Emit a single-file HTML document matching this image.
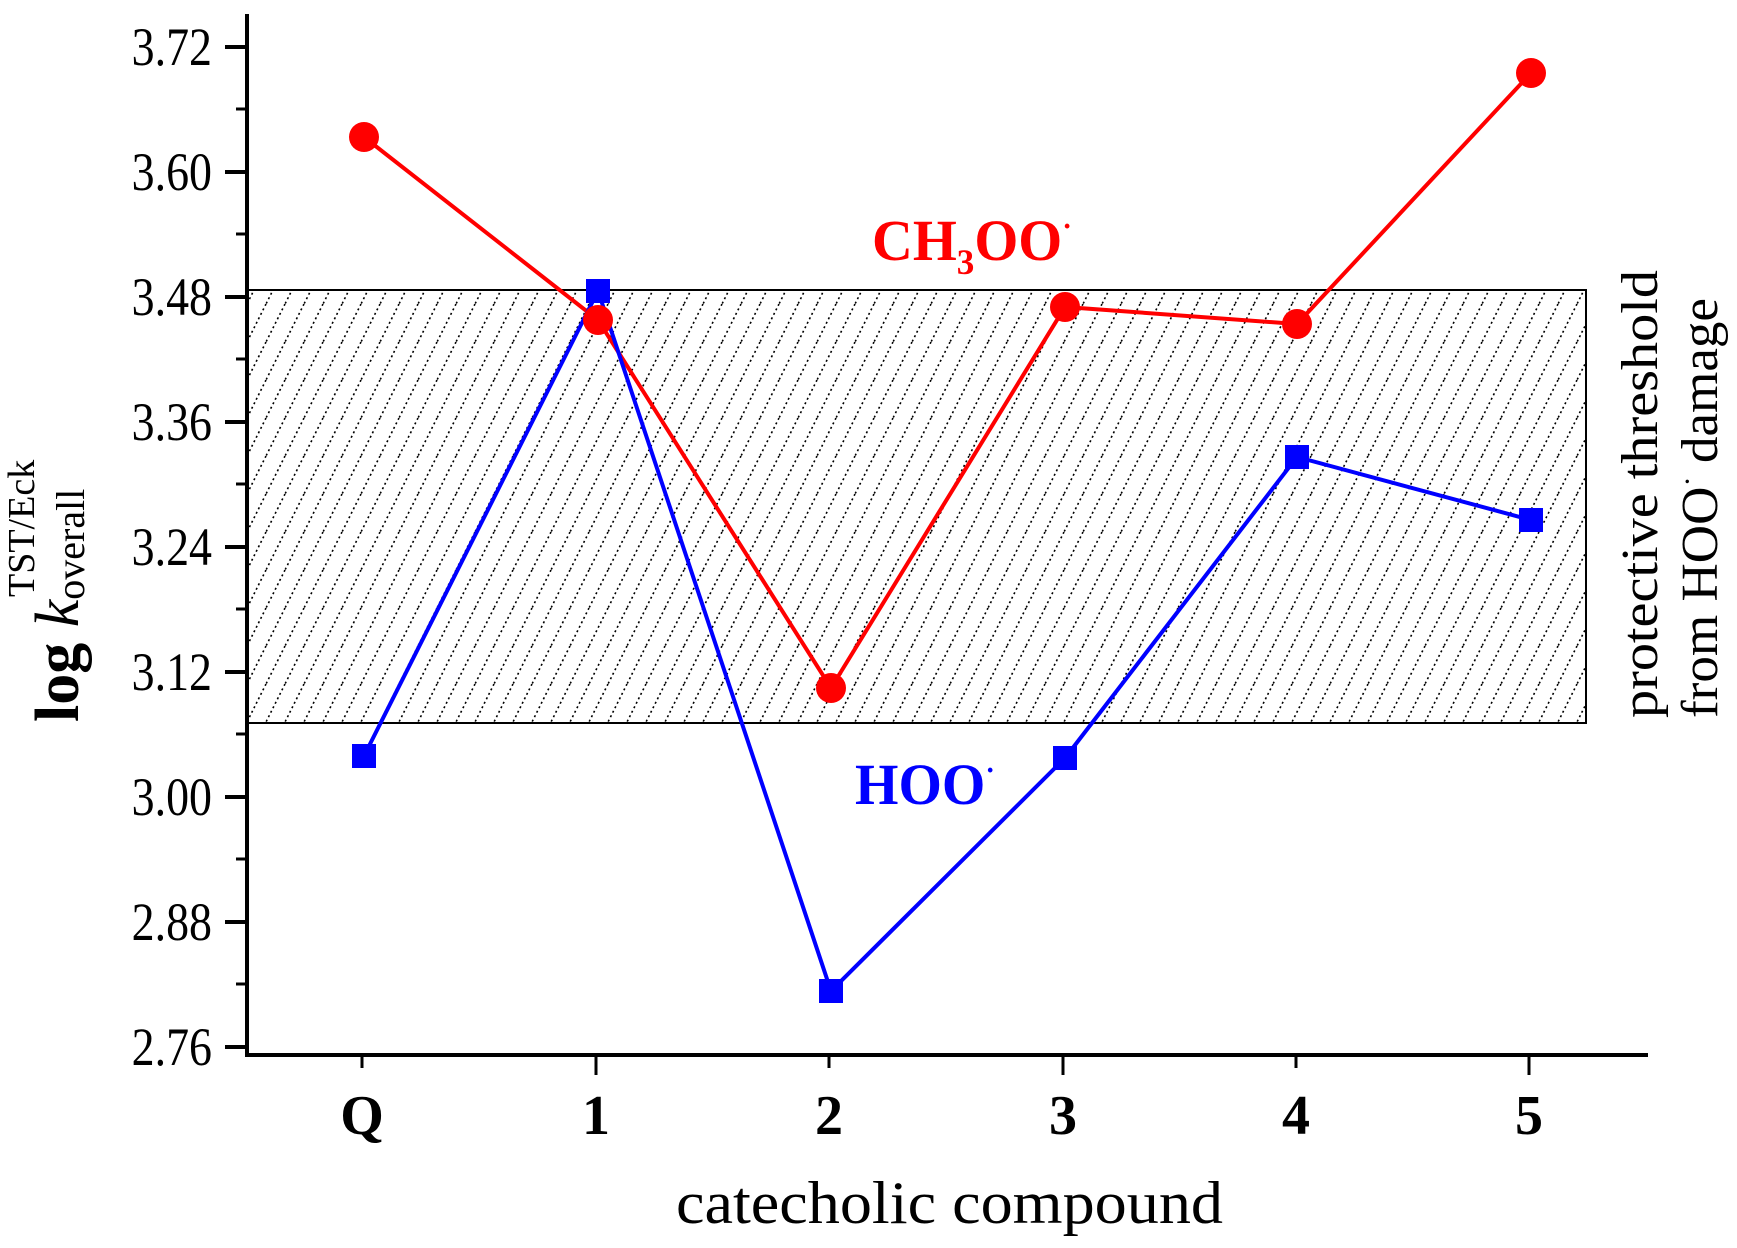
<!DOCTYPE html>
<html><head><style>html,body{margin:0;padding:0;background:#fff}svg{display:block}</style></head>
<body>
<svg width="1737" height="1248" viewBox="0 0 1737 1248" xmlns="http://www.w3.org/2000/svg" font-family="Liberation Serif, serif">
<defs>
<pattern id="h" patternUnits="userSpaceOnUse" width="19" height="38">
<line x1="19" y1="0" x2="0" y2="38" stroke="#000" stroke-width="1.6" stroke-dasharray="2,3"/>
<line x1="38" y1="0" x2="19" y2="38" stroke="#000" stroke-width="1.6" stroke-dasharray="2,3"/>
<line x1="0" y1="0" x2="-19" y2="38" stroke="#000" stroke-width="1.6" stroke-dasharray="2,3"/>
</pattern>
</defs>
<rect x="247" y="290" width="1339" height="433" fill="url(#h)" stroke="#000" stroke-width="2"/>
<line x1="247" y1="14" x2="247" y2="1055" stroke="#000" stroke-width="4"/>
<line x1="245" y1="1055" x2="1648" y2="1055" stroke="#000" stroke-width="4"/>
<g stroke="#000" stroke-width="4">
<line x1="225" y1="47" x2="247" y2="47"/><line x1="225" y1="172" x2="247" y2="172"/>
<line x1="225" y1="297" x2="247" y2="297"/><line x1="225" y1="422" x2="247" y2="422"/>
<line x1="225" y1="547" x2="247" y2="547"/><line x1="225" y1="672" x2="247" y2="672"/>
<line x1="225" y1="797" x2="247" y2="797"/><line x1="225" y1="922" x2="247" y2="922"/>
<line x1="225" y1="1047" x2="247" y2="1047"/>
</g>
<g stroke="#000" stroke-width="3">
<line x1="236" y1="109" x2="247" y2="109"/><line x1="236" y1="234" x2="247" y2="234"/>
<line x1="236" y1="359" x2="247" y2="359"/><line x1="236" y1="484" x2="247" y2="484"/>
<line x1="236" y1="609" x2="247" y2="609"/><line x1="236" y1="734" x2="247" y2="734"/>
<line x1="236" y1="859" x2="247" y2="859"/><line x1="236" y1="984" x2="247" y2="984"/>
<line x1="362" y1="1055" x2="362" y2="1068"/><line x1="596" y1="1055" x2="596" y2="1075"/>
<line x1="829" y1="1055" x2="829" y2="1068"/><line x1="1063" y1="1055" x2="1063" y2="1075"/>
<line x1="1296" y1="1055" x2="1296" y2="1068"/><line x1="1529" y1="1055" x2="1529" y2="1075"/>
</g>
<g font-size="54" text-anchor="end">
<text transform="translate(212 65) scale(0.85 1)">3.72</text>
<text transform="translate(212 190) scale(0.85 1)">3.60</text>
<text transform="translate(212 315) scale(0.85 1)">3.48</text>
<text transform="translate(212 440) scale(0.85 1)">3.36</text>
<text transform="translate(212 565) scale(0.85 1)">3.24</text>
<text transform="translate(212 690) scale(0.85 1)">3.12</text>
<text transform="translate(212 815) scale(0.85 1)">3.00</text>
<text transform="translate(212 940) scale(0.85 1)">2.88</text>
<text transform="translate(212 1065) scale(0.85 1)">2.76</text>
</g>
<g font-size="56" font-weight="bold" text-anchor="middle">
<text x="362" y="1134">Q</text><text x="596" y="1134">1</text><text x="829" y="1134">2</text>
<text x="1063" y="1134">3</text><text x="1296" y="1134">4</text><text x="1529" y="1134">5</text>
</g>
<text x="676" y="1223" font-size="60" textLength="547" lengthAdjust="spacingAndGlyphs">catecholic compound</text>
<g transform="translate(78 722) rotate(-90)">
<text x="0" y="0" font-size="62"><tspan font-weight="bold">log </tspan><tspan font-style="italic">k</tspan><tspan font-size="40" dy="6">overall</tspan></text>
<text x="125" y="-44" font-size="38">TST/Eck</text>
</g>
<text transform="translate(1657 718) rotate(-90)" font-size="52" textLength="448" lengthAdjust="spacingAndGlyphs">protective threshold</text>
<text transform="translate(1717 718) rotate(-90)" font-size="52" textLength="420" lengthAdjust="spacingAndGlyphs">from HOO<tspan dy="-20" font-size="30">·</tspan><tspan dy="20"> damage</tspan></text>
<polyline points="364,137 598,320 831,688 1065,307 1297,324 1531,73" fill="none" stroke="#f00" stroke-width="4"/>
<polyline points="364,756 598,291 831,991 1065,758 1297,457 1531,520" fill="none" stroke="#00f" stroke-width="4"/>
<g fill="#f00">
<circle cx="364" cy="137" r="15"/><circle cx="598" cy="320" r="15"/><circle cx="831" cy="688" r="15"/>
<circle cx="1065" cy="307" r="15"/><circle cx="1297" cy="324" r="15"/><circle cx="1531" cy="73" r="15"/>
</g>
<g fill="#00f">
<rect x="352" y="744" width="24" height="24"/><rect x="586" y="279" width="24" height="24"/>
<rect x="819" y="979" width="24" height="24"/><rect x="1053" y="746" width="24" height="24"/>
<rect x="1285" y="445" width="24" height="24"/><rect x="1519" y="508" width="24" height="24"/>
</g>
<text x="872" y="260" font-size="58" font-weight="bold" fill="#f00" textLength="200" lengthAdjust="spacingAndGlyphs">CH<tspan font-size="36" dy="14">3</tspan><tspan dy="-14">OO</tspan><tspan font-size="30" dy="-24">·</tspan></text>
<text x="855" y="804" font-size="58" font-weight="bold" fill="#00f" textLength="140" lengthAdjust="spacingAndGlyphs">HOO<tspan font-size="30" dy="-24">·</tspan></text>
</svg>
</body></html>
